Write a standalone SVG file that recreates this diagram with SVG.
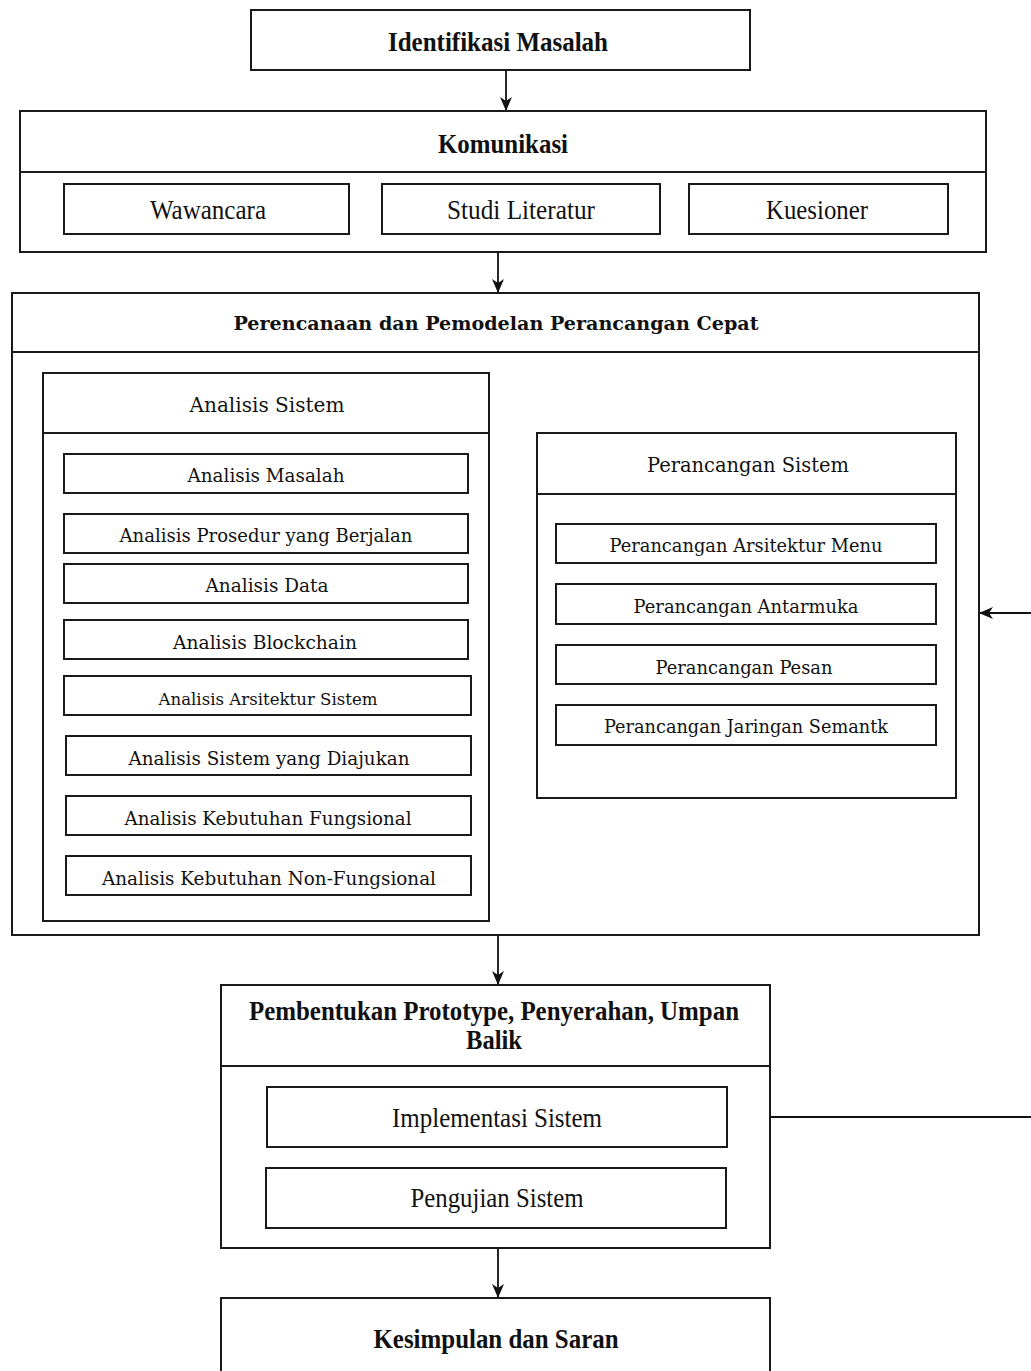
<svg xmlns="http://www.w3.org/2000/svg" width="1031" height="1371" viewBox="0 0 1031 1371">
<style>
rect{fill:#fff;stroke:#1a1a1a;stroke-width:2}
.div{stroke:#1a1a1a;stroke-width:2}
text{font-family:"Liberation Serif","Times New Roman",serif;fill:#111;text-anchor:middle}
.b{font-weight:bold;font-size:28px}
.w{font-size:28px}
.h{font-family:"DejaVu Serif",serif;font-weight:bold;font-size:19px}
.t{font-family:"DejaVu Serif",serif;font-size:20px}
.s{font-family:"DejaVu Serif",serif;font-size:18px}
.xs{font-family:"DejaVu Serif",serif;font-size:17px}
.c{stroke:#111;stroke-width:1.8;fill:none}
</style>
<defs>
<marker id="ah" markerWidth="14" markerHeight="12" refX="13" refY="6" orient="auto" markerUnits="userSpaceOnUse"><path d="M0,0 L14,6 L0,12 L4,6 Z" fill="#111"/></marker>
</defs>
<rect x="0" y="0" width="1031" height="1371" style="stroke:none"/>

<g id="connectors">
<line class="c" x1="506" y1="71" x2="506" y2="110" marker-end="url(#ah)"/>
<line class="c" x1="498" y1="253" x2="498" y2="292" marker-end="url(#ah)"/>
<line class="c" x1="490" y1="649" x2="536" y2="649" marker-end="url(#ah)"/>
<line class="c" x1="1031" y1="613" x2="980" y2="613" marker-end="url(#ah)"/>
<line class="c" x1="498" y1="936" x2="498" y2="984" marker-end="url(#ah)"/>
<line class="c" x1="771" y1="1117" x2="1031" y2="1117"/>
<line class="c" x1="498" y1="1249" x2="498" y2="1297" marker-end="url(#ah)"/>
</g>

<g id="identifikasi">
<rect x="251" y="10" width="499" height="60"/>
<text class="b" x="498" y="51" textLength="220" lengthAdjust="spacingAndGlyphs">Identifikasi Masalah</text>
</g>

<g id="komunikasi">
<rect x="20" y="111" width="966" height="141"/>
<line class="div" x1="20" y1="172" x2="986" y2="172"/>
<text class="b" x="503" y="153" textLength="130" lengthAdjust="spacingAndGlyphs">Komunikasi</text>
</g>
<g id="wawancara"><rect x="64" y="184" width="285" height="50"/><text class="w" x="208" y="219" textLength="116" lengthAdjust="spacingAndGlyphs">Wawancara</text></g>
<g id="studi"><rect x="382" y="184" width="278" height="50"/><text class="w" x="521" y="219" textLength="148" lengthAdjust="spacingAndGlyphs">Studi Literatur</text></g>
<g id="kuesioner"><rect x="689" y="184" width="259" height="50"/><text class="w" x="817" y="219" textLength="102" lengthAdjust="spacingAndGlyphs">Kuesioner</text></g>

<g id="perencanaan">
<rect x="12" y="293" width="967" height="642"/>
<line class="div" x1="12" y1="352" x2="979" y2="352"/>
<text class="h" x="496" y="330" textLength="525" lengthAdjust="spacingAndGlyphs">Perencanaan dan Pemodelan Perancangan Cepat</text>
</g>

<g id="analisis-sistem">
<rect x="43" y="373" width="446" height="548"/>
<line class="div" x1="43" y1="433" x2="489" y2="433"/>
<text class="t" x="267" y="412" textLength="155" lengthAdjust="spacingAndGlyphs">Analisis Sistem</text>
</g>
<g id="a-masalah"><rect x="64" y="454" width="404" height="39"/><text class="s" x="266" y="482" textLength="157" lengthAdjust="spacingAndGlyphs">Analisis Masalah</text></g>
<g id="a-prosedur"><rect x="64" y="514" width="404" height="39"/><text class="s" x="266" y="542" textLength="293" lengthAdjust="spacingAndGlyphs">Analisis Prosedur yang Berjalan</text></g>
<g id="a-data"><rect x="64" y="564" width="404" height="39"/><text class="s" x="267" y="592" textLength="123" lengthAdjust="spacingAndGlyphs">Analisis Data</text></g>
<g id="a-blockchain"><rect x="64" y="620" width="404" height="39"/><text class="s" x="265" y="649" textLength="184" lengthAdjust="spacingAndGlyphs">Analisis Blockchain</text></g>
<g id="a-arsitektur"><rect x="64" y="676" width="407" height="39"/><text class="xs" x="268" y="705" textLength="219" lengthAdjust="spacingAndGlyphs">Analisis Arsitektur Sistem</text></g>
<g id="a-diajukan"><rect x="66" y="736" width="405" height="39"/><text class="s" x="269" y="765" textLength="281" lengthAdjust="spacingAndGlyphs">Analisis Sistem yang Diajukan</text></g>
<g id="a-fungsional"><rect x="66" y="796" width="405" height="39"/><text class="s" x="268" y="825" textLength="287" lengthAdjust="spacingAndGlyphs">Analisis Kebutuhan Fungsional</text></g>
<g id="a-nonfungsional"><rect x="66" y="856" width="405" height="39"/><text class="s" x="269" y="885" textLength="334" lengthAdjust="spacingAndGlyphs">Analisis Kebutuhan Non-Fungsional</text></g>

<g id="perancangan-sistem">
<rect x="537" y="433" width="419" height="365"/>
<line class="div" x1="537" y1="494" x2="956" y2="494"/>
<text class="t" x="748" y="472" textLength="202" lengthAdjust="spacingAndGlyphs">Perancangan Sistem</text>
</g>
<g id="p-menu"><rect x="556" y="524" width="380" height="39"/><text class="s" x="746" y="552" textLength="273" lengthAdjust="spacingAndGlyphs">Perancangan Arsitektur Menu</text></g>
<g id="p-antarmuka"><rect x="556" y="584" width="380" height="40"/><text class="s" x="746" y="613" textLength="225" lengthAdjust="spacingAndGlyphs">Perancangan Antarmuka</text></g>
<g id="p-pesan"><rect x="556" y="645" width="380" height="39"/><text class="s" x="744" y="674" textLength="177" lengthAdjust="spacingAndGlyphs">Perancangan Pesan</text></g>
<g id="p-jaringan"><rect x="556" y="705" width="380" height="40"/><text class="s" x="746" y="733" textLength="284" lengthAdjust="spacingAndGlyphs">Perancangan Jaringan Semantk</text></g>

<g id="pembentukan">
<rect x="221" y="985" width="549" height="263"/>
<line class="div" x1="221" y1="1066" x2="770" y2="1066"/>
<text class="b" x="494" y="1020" textLength="490" lengthAdjust="spacingAndGlyphs">Pembentukan Prototype, Penyerahan, Umpan</text>
<text class="b" x="494" y="1049" textLength="56" lengthAdjust="spacingAndGlyphs">Balik</text>
</g>
<g id="implementasi"><rect x="267" y="1087" width="460" height="60"/><text class="w" x="497" y="1127" textLength="210" lengthAdjust="spacingAndGlyphs">Implementasi Sistem</text></g>
<g id="pengujian"><rect x="266" y="1168" width="460" height="60"/><text class="w" x="497" y="1207" textLength="173" lengthAdjust="spacingAndGlyphs">Pengujian Sistem</text></g>

<g id="kesimpulan">
<rect x="221" y="1298" width="549" height="90"/>
<text class="b" x="496" y="1348" textLength="245" lengthAdjust="spacingAndGlyphs">Kesimpulan dan Saran</text>
</g>
</svg>
